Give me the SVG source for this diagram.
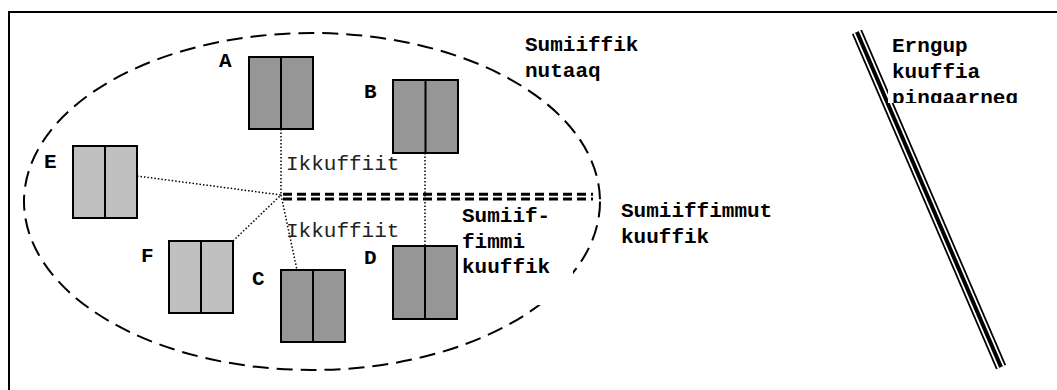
<svg xmlns="http://www.w3.org/2000/svg" width="1057" height="390" viewBox="0 0 1057 390">
<style>
.bold{font-family:"Liberation Mono","Courier New",monospace;font-weight:bold;font-size:21px;fill:#000}
.reg{font-family:"Liberation Mono","Courier New",monospace;font-size:21px;fill:#222}
.dark{fill:#969696;stroke:#000;stroke-width:2}
.light{fill:#c0c0c0;stroke:#000;stroke-width:2}
.div{stroke:#000;stroke-width:2}
.dot{stroke:#000;stroke-width:1.5;stroke-dasharray:1.5 2;fill:none}
.dbl{stroke:#000;stroke-width:3;stroke-dasharray:9 5;fill:none}
</style>
<defs>
<clipPath id="clipE"><rect x="888" y="30" width="169" height="73"/></clipPath>
</defs>
<rect width="1057" height="390" fill="#fff"/>
<rect id="frame" x="9" y="12" width="1100" height="420" fill="none" stroke="#000" stroke-width="2"/>
<ellipse id="zone" cx="312" cy="201.5" rx="288" ry="168.5" fill="none" stroke="#000" stroke-width="2" stroke-dasharray="16 8"/>
<g id="connectors">
<line class="dot" x1="281" y1="129" x2="281" y2="195"/>
<line class="dot" x1="137" y1="176" x2="281" y2="195"/>
<line class="dot" x1="233" y1="241" x2="281" y2="195"/>
<line class="dot" x1="281" y1="195" x2="297" y2="270"/>
<line class="dot" x1="425" y1="153" x2="425" y2="246"/>
<line class="dbl" x1="283" y1="194.3" x2="593" y2="194.3"/>
<line class="dbl" x1="283" y1="199" x2="593" y2="199"/>
<text class="reg" x="286" y="170">Ikkuffiit</text>
<text class="reg" x="286" y="237">Ikkuffiit</text>
</g>
<g id="nodeA">
<rect class="dark" x="249" y="57" width="64" height="72"/>
<line class="div" x1="281" y1="57" x2="281" y2="129"/>
<text class="bold" x="219" y="67">A</text>
</g>
<g id="nodeB">
<rect class="dark" x="393" y="80" width="65" height="73"/>
<line class="div" x1="425.5" y1="80" x2="425.5" y2="153"/>
<text class="bold" x="364" y="98">B</text>
</g>
<g id="nodeC">
<rect class="dark" x="281" y="270" width="64" height="72"/>
<line class="div" x1="313" y1="270" x2="313" y2="342"/>
<text class="bold" x="252" y="285">C</text>
</g>
<g id="nodeD">
<rect class="dark" x="393" y="246" width="64" height="73"/>
<line class="div" x1="425" y1="246" x2="425" y2="319"/>
<text class="bold" x="364" y="264">D</text>
</g>
<g id="nodeE">
<rect class="light" x="73" y="146" width="64" height="72"/>
<line class="div" x1="105" y1="146" x2="105" y2="218"/>
<text class="bold" x="44" y="168">E</text>
</g>
<g id="nodeF">
<rect class="light" x="169" y="241" width="64" height="72"/>
<line class="div" x1="201" y1="241" x2="201" y2="313"/>
<text class="bold" x="141" y="262">F</text>
</g>
<g id="labelNew">
<text class="bold" x="525" y="51">Sumiiffik</text>
<text class="bold" x="525" y="77">nutaaq</text>
</g>
<g id="labelInside">
<rect x="459" y="204" width="114" height="101" fill="#fff"/>
<text class="bold" x="462" y="222">Sumiif-</text>
<text class="bold" x="462" y="248">fimmi</text>
<text class="bold" x="462" y="273">kuuffik</text>
</g>
<g id="labelOut">
<text class="bold" x="621" y="217">Sumiiffimmut</text>
<text class="bold" x="621" y="243">kuuffik</text>
</g>
<g id="mainLine">
<line x1="857" y1="32" x2="1001" y2="367" stroke="#000" stroke-width="11"/>
<line x1="857" y1="32" x2="1001" y2="367" stroke="#fff" stroke-width="7.5"/>
<line x1="857" y1="32" x2="1001" y2="367" stroke="#000" stroke-width="4"/>
</g>
<g id="labelMain">
<rect x="888" y="36" width="130" height="67" fill="#fff"/>
<g clip-path="url(#clipE)">
<text class="bold" x="892" y="52">Erngup</text>
<text class="bold" x="892" y="78">kuuffia</text>
<text class="bold" x="892" y="104">pingaarneq</text>
</g>
</g>
</svg>
